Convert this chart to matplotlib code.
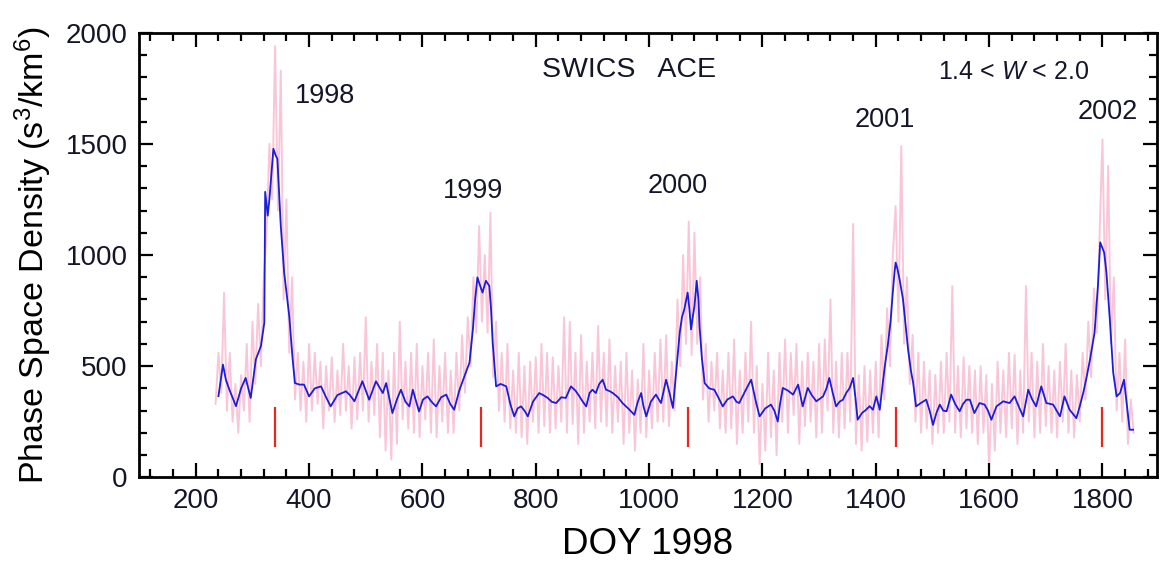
import numpy as np
import matplotlib
matplotlib.use("Agg")
import matplotlib.pyplot as plt
from matplotlib.ticker import MultipleLocator

plt.rcParams['font.family'] = ['Liberation Sans', 'DejaVu Sans']
plt.rcParams['mathtext.fontset'] = 'custom'
plt.rcParams['mathtext.rm'] = 'Liberation Sans'
plt.rcParams['mathtext.it'] = 'Liberation Sans:italic'

# ---- data ----
# smoothed (running-average) phase space density: (DOY, value)
blue_doy = [240, 248, 253, 260, 271, 280, 288, 297, 306, 315, 321, 322.5, 327, 330, 337, 341, 344, 350, 356, 365,
            371, 375, 383, 391, 400, 410, 421, 430, 438, 450, 465, 472, 480, 494, 506, 518, 530, 536, 547, 555,
            562, 570, 577, 583, 594, 601, 609, 616, 624, 633, 642, 649, 656, 665, 674, 683, 689, 693, 697, 702,
            706, 712, 718, 721, 724, 730, 738, 748, 755, 762, 768, 774, 780, 786, 795, 806, 813, 821, 828, 836,
            845, 853, 862, 870, 877, 883, 889, 895, 900, 906, 912, 918, 924, 930, 936, 945, 953, 963, 974, 980,
            986, 990, 995, 1003, 1012, 1021, 1030, 1036, 1042, 1048, 1054, 1058, 1062, 1068, 1071, 1074, 1077, 1080, 1084, 1087,
            1089, 1093, 1098, 1106, 1115, 1122, 1130, 1138, 1148, 1154, 1159, 1170, 1180, 1185, 1189, 1195, 1205, 1215, 1221, 1227,
            1231, 1236, 1245, 1254, 1263, 1271, 1280, 1287, 1295, 1307, 1313, 1318, 1324, 1330, 1336, 1342, 1348, 1354, 1360, 1364,
            1368, 1376, 1383, 1389, 1395, 1401, 1407, 1413, 1417, 1421, 1426, 1430, 1433, 1435, 1438, 1442, 1448, 1452, 1457, 1462,
            1466, 1471, 1480, 1489, 1495, 1501, 1507, 1513, 1519, 1525, 1533, 1540, 1548, 1554, 1560, 1566, 1574, 1583, 1592, 1598,
            1604, 1613, 1625, 1636, 1645, 1652, 1660, 1669, 1676, 1683, 1692, 1701, 1713, 1719, 1725, 1733, 1742, 1754, 1760, 1766,
            1772, 1778, 1786, 1792, 1796, 1800, 1803, 1807, 1813, 1819, 1825, 1831, 1838, 1842, 1848, 1854]
blue_psd = [365, 507, 440, 390, 320, 400, 447, 357, 530, 590, 696, 1284, 1177, 1252, 1478, 1448, 1433, 1132, 921, 725,
            530, 424, 417, 417, 364, 400, 409, 360, 319, 370, 387, 370, 342, 432, 349, 432, 379, 424, 289, 350,
            394, 340, 319, 394, 296, 350, 364, 340, 319, 360, 372, 330, 304, 390, 454, 515, 665, 800, 899, 860,
            831, 884, 861, 760, 605, 409, 420, 409, 330, 274, 310, 319, 300, 274, 340, 379, 370, 357, 340, 334,
            360, 357, 409, 390, 364, 340, 319, 380, 394, 379, 420, 439, 394, 388, 379, 360, 334, 310, 281, 340,
            379, 320, 274, 340, 372, 334, 439, 380, 312, 480, 650, 720, 755, 831, 760, 665, 720, 770, 884, 800,
            680, 540, 424, 400, 394, 360, 319, 350, 364, 340, 334, 390, 439, 380, 334, 274, 310, 327, 300, 251,
            330, 402, 390, 372, 417, 319, 402, 370, 342, 364, 400, 447, 380, 319, 340, 349, 380, 402, 447, 360,
            259, 290, 304, 320, 304, 364, 304, 439, 520, 590, 700, 831, 920, 966, 940, 891, 801, 700, 575, 480,
            424, 319, 335, 349, 300, 236, 290, 327, 300, 297, 372, 330, 297, 330, 349, 349, 289, 334, 327, 300,
            259, 319, 342, 334, 364, 320, 274, 394, 350, 319, 409, 334, 327, 300, 274, 364, 304, 266, 320, 379,
            450, 530, 650, 861, 1057, 1030, 1011, 921, 710, 470, 364, 379, 439, 349, 214, 214]

# daily (noisy) values, one every 5 days starting at DOY 235
pink_start = 235
pink_step = 5
pink_psd = [330, 560, 380, 830, 300, 560, 250, 420, 200, 460,
            300, 600, 250, 700, 420, 780, 500, 900, 1100, 1500,
            1250, 1940, 1200, 1830, 800, 1250, 560, 900, 350, 560,
            300, 520, 250, 600, 300, 560, 330, 520, 220, 500,
            300, 540, 250, 480, 280, 600, 300, 500, 220, 540,
            260, 560, 300, 720, 250, 520, 280, 600, 180, 560,
            120, 480, 80, 560, 150, 700, 260, 520, 220, 560,
            200, 600, 180, 500, 260, 560, 200, 620, 180, 500,
            250, 560, 200, 480, 200, 560, 300, 640, 380, 720,
            500, 900, 650, 1130, 700, 1000, 650, 1190, 450, 700,
            300, 560, 250, 600, 220, 480, 200, 560, 180, 500,
            150, 520, 250, 540, 200, 600, 230, 560, 200, 540,
            220, 500, 250, 720, 200, 700, 240, 560, 150, 640,
            200, 520, 250, 560, 220, 680, 250, 560, 230, 620,
            200, 500, 250, 520, 150, 560, 200, 480, 120, 440,
            200, 600, 180, 480, 220, 560, 250, 620, 250, 640,
            230, 520, 300, 800, 500, 1000, 600, 1150, 550, 1100,
            600, 900, 350, 600, 250, 520, 300, 560, 220, 480,
            200, 560, 220, 620, 150, 480, 200, 560, 250, 700,
            200, 500, 60, 420, 120, 560, 180, 480, 100, 560,
            250, 620, 200, 560, 280, 600, 150, 520, 230, 560,
            250, 520, 180, 600, 200, 620, 300, 800, 200, 520,
            180, 560, 220, 560, 250, 1140, 150, 460, 120, 500,
            160, 480, 200, 520, 180, 640, 350, 760, 500, 1000,
            1220, 700, 1490, 600, 900, 420, 640, 250, 560, 200,
            520, 220, 480, 150, 460, 200, 520, 200, 560, 250,
            860, 200, 500, 180, 540, 220, 500, 200, 480, 150,
            500, 200, 460, 40, 420, 120, 520, 200, 480, 180,
            560, 220, 550, 150, 480, 200, 860, 250, 560, 180,
            520, 200, 600, 230, 500, 200, 480, 180, 520, 250,
            600, 200, 480, 180, 460, 250, 560, 350, 700, 450,
            850, 650, 1100, 1520, 800, 1400, 600, 900, 300, 560,
            250, 620, 150, 350, 200]
pink_doy = pink_start + pink_step * np.arange(len(pink_psd))

# DOY of the expected cone maxima (red markers)
marker_doy = [339, 704, 1069, 1435, 1800]
marker_lo, marker_hi = 135, 315

year_labels = ['1998', '1999', '2000', '2001', '2002']
year_label_x = [428, 689, 1051, 1416, 1810]
year_label_y = [1715, 1288, 1310, 1607, 1643]

# ---- figure ----
fig = plt.figure(figsize=(11.67, 5.61), dpi=100)
ax = fig.add_axes([0.1187, 0.1492, 0.8731, 0.7925])

ax.plot(pink_doy, pink_psd, color='#f7b3cc', lw=1.4, alpha=0.75, zorder=1)
ax.plot(blue_doy, blue_psd, color='#1c1cdc', lw=1.3, zorder=2)
ax.vlines(marker_doy, marker_lo, marker_hi, color='#e8281e', lw=1.6, zorder=3)

ax.set_xlim(99, 1897)
ax.set_ylim(0, 2000)
ax.xaxis.set_major_locator(MultipleLocator(200))
ax.xaxis.set_minor_locator(MultipleLocator(40))
ax.yaxis.set_major_locator(MultipleLocator(500))
ax.yaxis.set_minor_locator(MultipleLocator(100))
ax.tick_params(which='both', direction='in', top=True, right=True, width=1.6,
               labelsize=20, labelcolor='#15152a', pad=8)
ax.tick_params(which='major', length=10)
ax.tick_params(which='minor', length=5.5)
for s in ax.spines.values():
    s.set_linewidth(2.0)

ax.set_xlabel('DOY 1998', fontsize=26.5, labelpad=9)
ax.set_ylabel('Phase Space Density (s$^3$/km$^6$)', fontsize=24.5, labelpad=8)

ax.text(965, 1832, 'SWICS   ACE', fontsize=20.5, ha='center', va='center', color='#15152a')
ax.text(1644, 1823, r'1.4 < $W$ < 2.0', fontsize=18, ha='center', va='center', color='#15152a')
for lab, lx, ly in zip(year_labels, year_label_x, year_label_y):
    ax.text(lx, ly, lab, fontsize=19.5, ha='center', va='center', color='#15152a')

fig.savefig('out.png', dpi=100)
